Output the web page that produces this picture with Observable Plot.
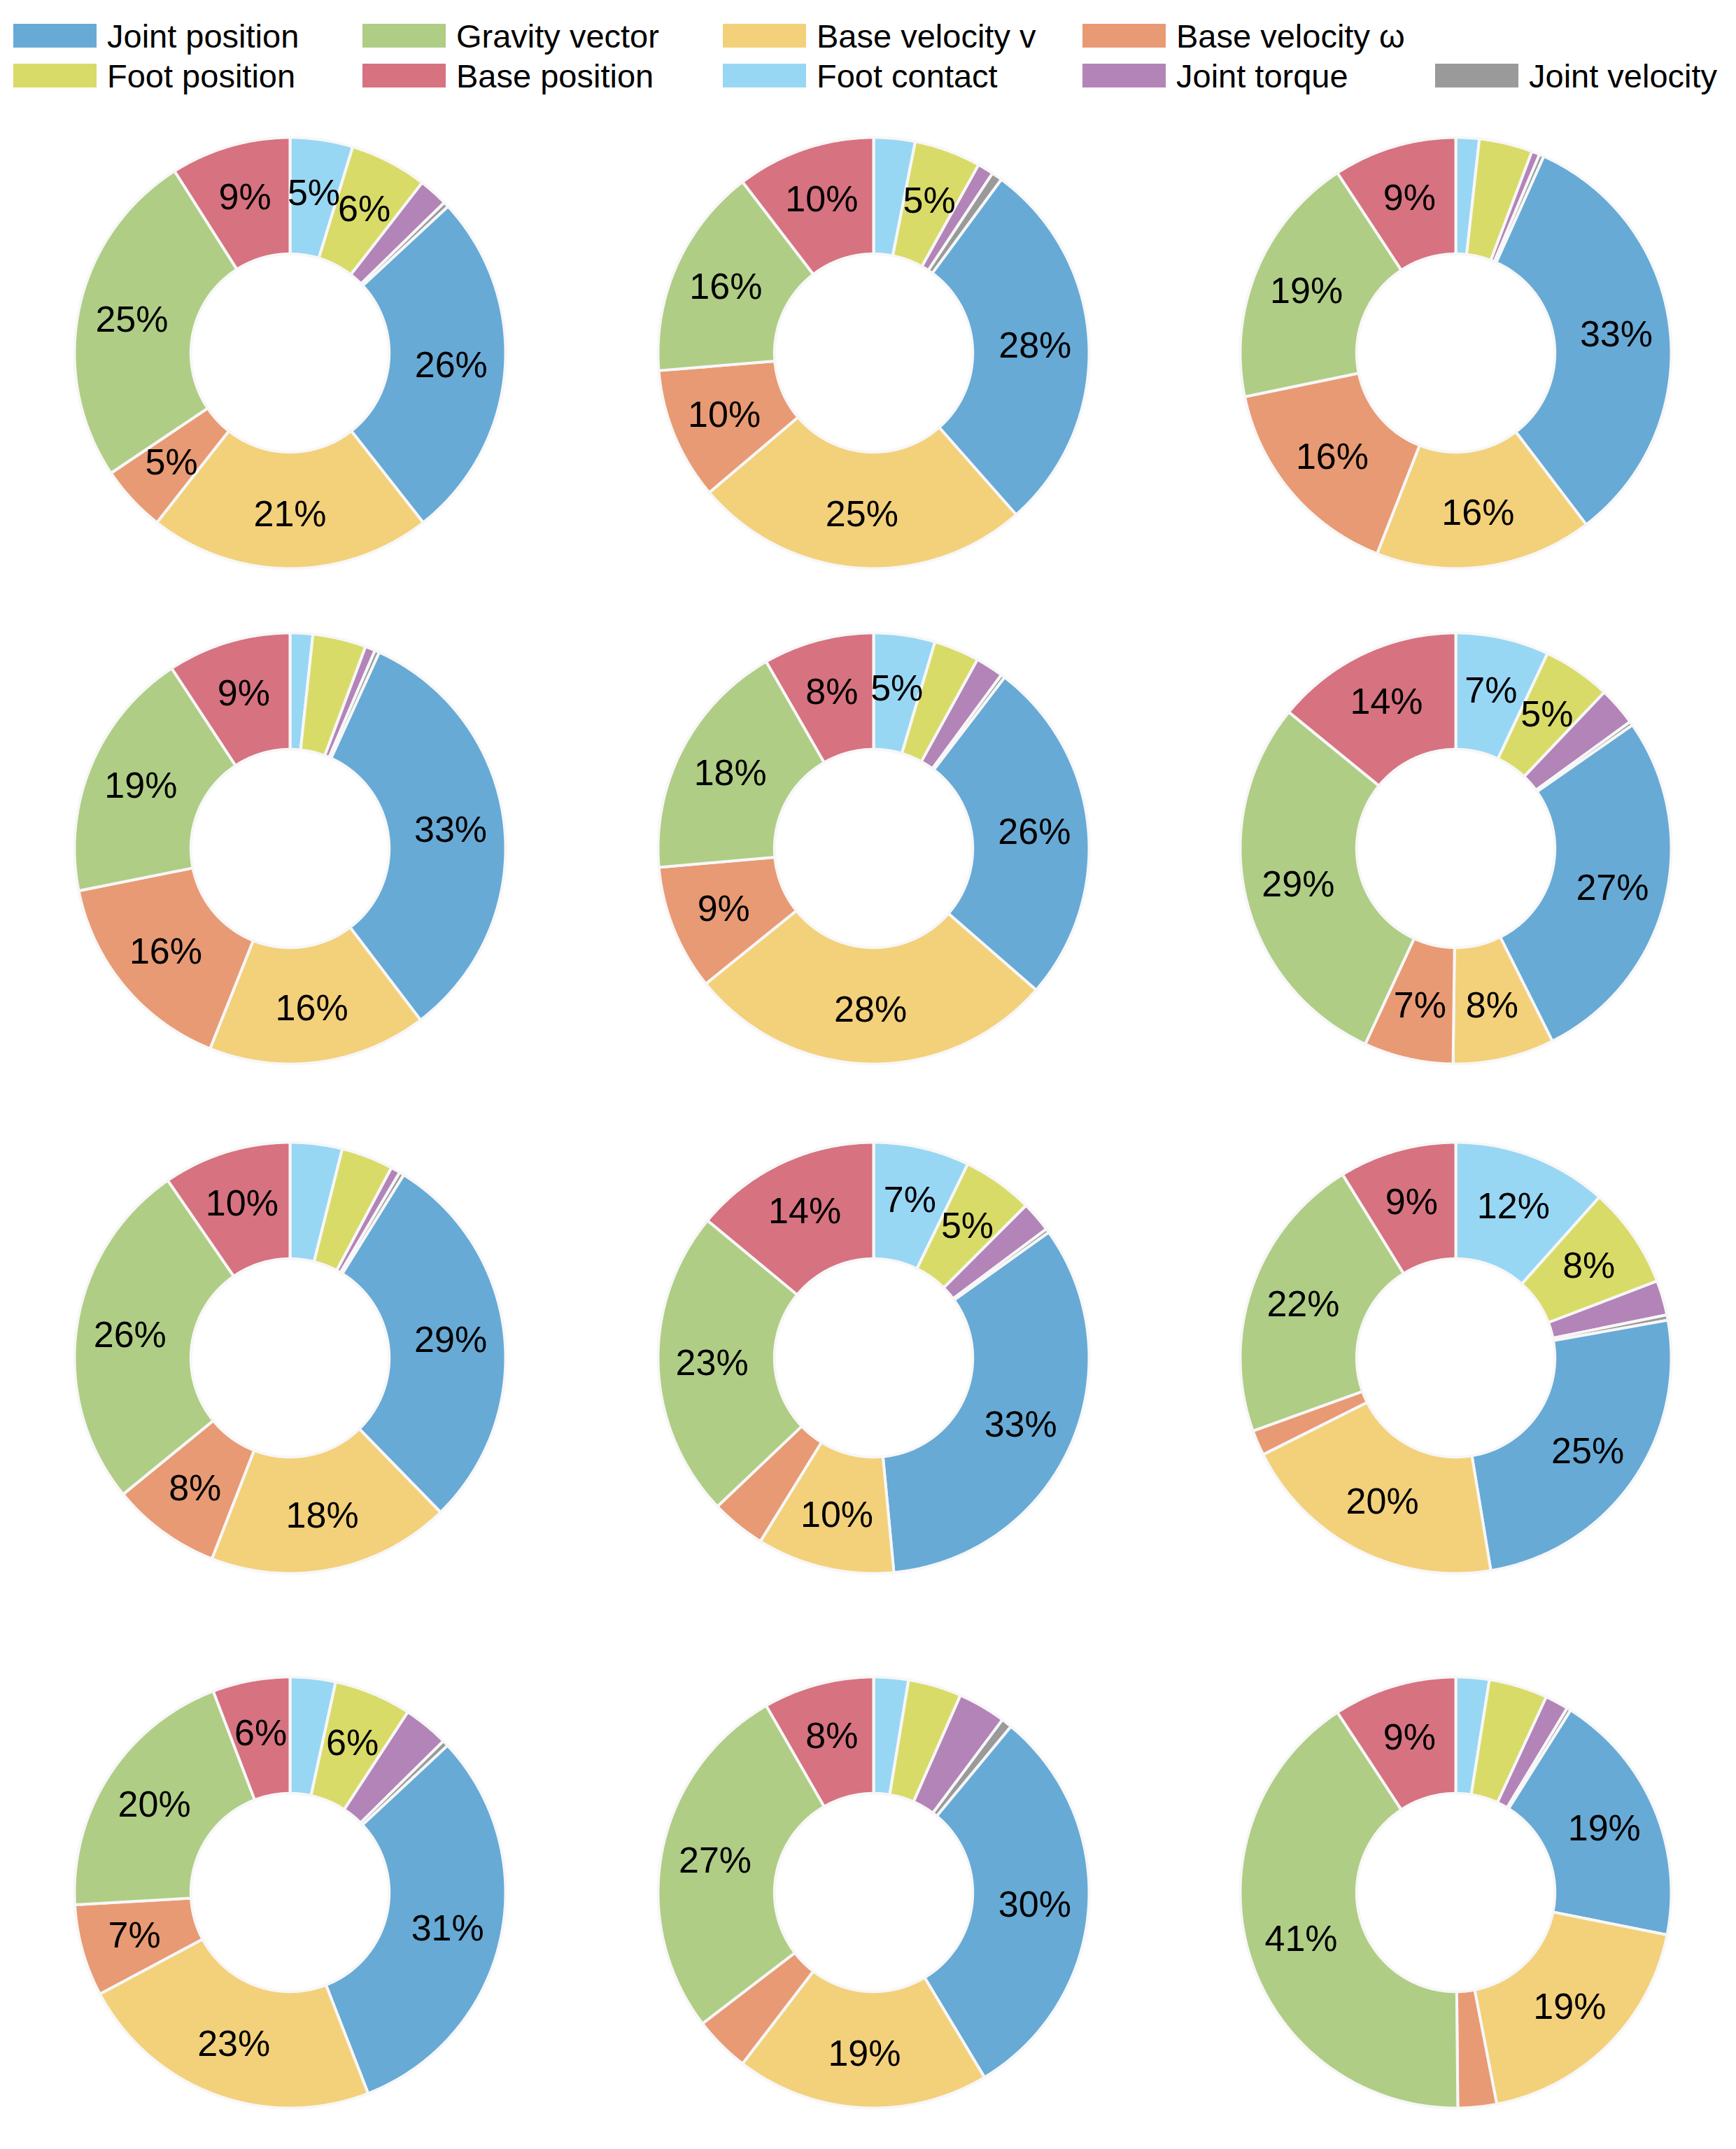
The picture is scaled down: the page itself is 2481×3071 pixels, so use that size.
<!DOCTYPE html>
<html>
<head>
<meta charset="utf-8">
<script src="https://cdn.jsdelivr.net/npm/d3@7"></script>
<script src="https://cdn.jsdelivr.net/npm/@observablehq/plot@0.6"></script>
<style>
html, body { margin: 0; padding: 0; background: #fff; }
#fig { position: relative; width: 2481px; height: 3071px; font-family: "Liberation Sans", Arial, sans-serif; background: #fff; }
.pie { position: absolute; }
.leg { position: absolute; display: flex; align-items: center; font-size: 47px; color: #000; white-space: nowrap; }
.sw { width: 119px; height: 34px; margin-right: 15px; flex: none; }
</style>
</head>
<body>
<div id="fig"></div>
<script>
// Slice order: clockwise from 12 o'clock
const categories = ["Foot contact", "Foot position", "Joint torque", "Joint velocity", "Joint position",
  "Base velocity v", "Base velocity ω", "Gravity vector", "Base position"];
const colors = ["#98d7f4", "#d9db68", "#b384b8", "#9a9a9a", "#67aad6", "#f3d07a", "#e89a74", "#afcd85", "#d77280"];

// Series values (percent), one entry per chart (12 charts, row by row)
const footContact    = [4.7, 3.1, 1.75, 1.7, 4.6, 7.0, 3.9, 7.2, 11.6, 3.4, 2.6, 2.5];
const footPosition   = [5.8, 5.0, 4.0, 4.0, 3.4, 5.1, 3.9, 5.3, 7.6, 5.8, 4.0, 4.4];
const jointTorque    = [2.2, 1.2, 0.6, 0.75, 2.1, 2.9, 0.7, 2.3, 2.6, 3.4, 3.6, 1.75];
const jointVelocity  = [0.4, 0.8, 0.35, 0.35, 0.3, 0.3, 0.35, 0.3, 0.4, 0.45, 0.8, 0.3];
const jointPosition  = [26.3, 28.4, 32.95, 32.85, 26.0, 27.3, 28.85, 33.4, 25.2, 31.05, 30.4, 19.2];
const baseVelocityV  = [21.2, 25.3, 16.3, 16.4, 27.8, 7.6, 18.2, 10.3, 20.2, 23.1, 19.0, 18.8];
const baseVelocityW  = [5.0, 9.9, 15.8, 15.8, 9.4, 6.7, 8.2, 4.1, 1.9, 6.9, 4.2, 2.9];
const gravityVector  = [25.4, 15.9, 19.0, 18.9, 18.1, 29.0, 26.3, 23.1, 21.7, 20.1, 27.1, 40.9];
const basePosition   = [9.0, 10.4, 9.25, 9.25, 8.3, 14.1, 9.6, 14.0, 8.8, 5.8, 8.3, 9.25];

const legendRow1 = ["Joint position", "Gravity vector", "Base velocity v", "Base velocity ω"];
const legendRow2 = ["Foot position", "Base position", "Foot contact", "Joint torque", "Joint velocity"];

const series = [footContact, footPosition, jointTorque, jointVelocity, jointPosition,
  baseVelocityV, baseVelocityW, gravityVector, basePosition];

const fig = document.getElementById("fig");
const colorOf = Object.fromEntries(categories.map((c, i) => [c, colors[i]]));

// ----- legend -----
const legCols = [19, 518, 1033, 1547, 2051];
function addLegendRow(names, cy) {
  names.forEach((name, j) => {
    const d = document.createElement("div");
    d.className = "leg";
    d.style.left = legCols[j] + "px";
    d.style.top = (cy - 30) + "px";
    d.style.height = "60px";
    const sw = document.createElement("div");
    sw.className = "sw";
    sw.style.background = colorOf[name];
    const t = document.createElement("span");
    t.textContent = name;
    d.appendChild(sw); d.appendChild(t);
    fig.appendChild(d);
  });
}
addLegendRow(legendRow1, 51);
addLegendRow(legendRow2, 108);

// ----- pies -----
const colX = [414, 1248, 2080];
const rowY = [504, 1212, 1940, 2704];
const SIZE = 660, RPX = 308;
const half = SIZE / 2 / RPX;
const R_OUT = 1, R_IN = 0.46, R_LAB = 0.75;

function buildPie(vals) {
  const total = d3.sum(vals);
  let acc = 0;
  const polys = [], labels = [];
  vals.forEach((v, i) => {
    const a0 = acc / total * 2 * Math.PI;
    acc += v;
    const a1 = acc / total * 2 * Math.PI;
    const n = Math.max(2, Math.ceil((a1 - a0) / (Math.PI / 360)));
    const pts = [];
    for (let k = 0; k <= n; k++) { const a = a0 + (a1 - a0) * k / n; pts.push([R_OUT * Math.sin(a), R_OUT * Math.cos(a)]); }
    for (let k = n; k >= 0; k--) { const a = a0 + (a1 - a0) * k / n; pts.push([R_IN * Math.sin(a), R_IN * Math.cos(a)]); }
    pts.push(pts[0]);
    pts.forEach(([x, y]) => polys.push({x, y, key: i, cat: categories[i]}));
    const pct = v / total * 100;
    if (pct >= 4.5) {
      const am = (a0 + a1) / 2;
      labels.push({x: R_LAB * Math.sin(am), y: R_LAB * Math.cos(am), text: `${Math.round(pct)}%`});
    }
  });
  return {polys, labels};
}

for (let c = 0; c < 12; c++) {
  const vals = series.map(s => s[c]);
  const {polys, labels} = buildPie(vals);
  const svg = Plot.plot({
    width: SIZE, height: SIZE, margin: 0,
    style: {fontFamily: "Liberation Sans, Arial, sans-serif", background: "transparent"},
    x: {domain: [-half, half], axis: null},
    y: {domain: [-half, half], axis: null},
    color: {domain: categories, range: colors},
    marks: [
      Plot.line(polys, {x: "x", y: "y", z: "key", fill: "cat", stroke: "#f7f7f7", strokeWidth: 4, strokeLinejoin: "round", curve: "linear"}),
      Plot.text(labels, {x: "x", y: "y", text: "text", fontSize: 52, fill: "#000"})
    ]
  });
  const wrap = document.createElement("div");
  wrap.className = "pie";
  wrap.style.left = (colX[c % 3] - SIZE / 2) + "px";
  wrap.style.top = (rowY[Math.floor(c / 3)] - SIZE / 2) + "px";
  wrap.appendChild(svg);
  fig.appendChild(wrap);
}
</script>
</body>
</html>
